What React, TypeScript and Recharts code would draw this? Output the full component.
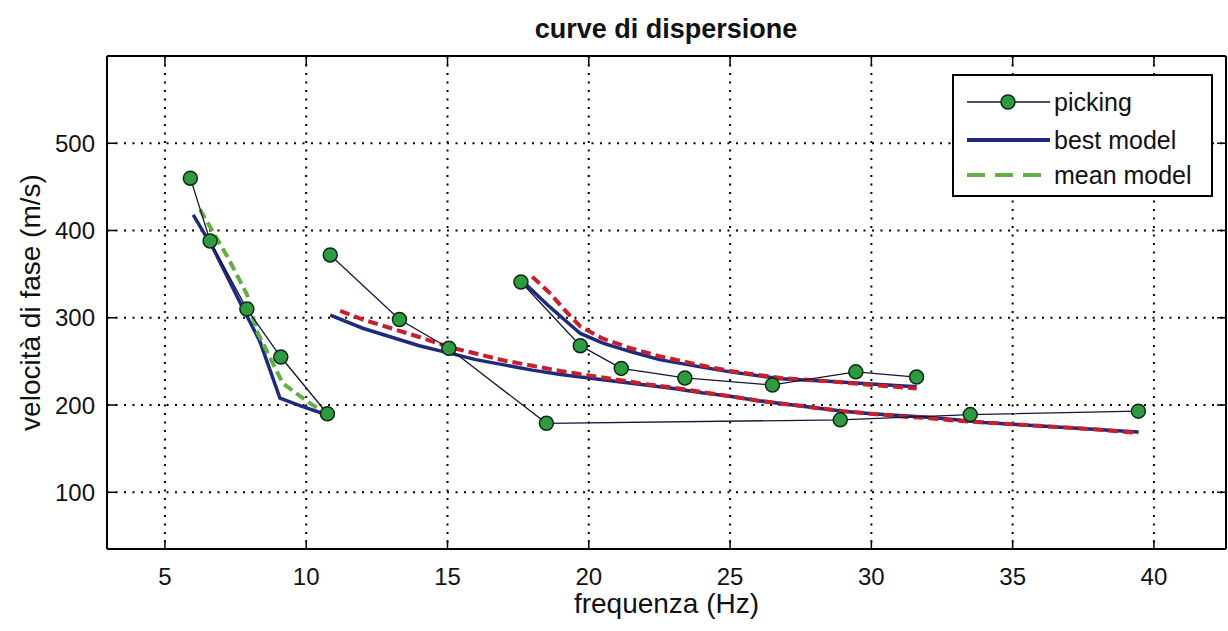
import React from 'react';
import { ComposedChart, Line, XAxis, YAxis, CartesianGrid, Legend } from 'recharts';

type P = { f: number; v: number };

const FONT = "'Liberation Sans', Arial, sans-serif";

const xTicks = [5, 10, 15, 20, 25, 30, 35, 40];
const yTicks = [100, 200, 300, 400, 500];
const xDomain: [number, number] = [2.95, 42.55];
const yDomain: [number, number] = [35, 600];

// picking (experimental points)
const pickingA: P[] = [
  { f: 5.9, v: 460 }, { f: 6.6, v: 388 }, { f: 7.9, v: 310 }, { f: 9.1, v: 255 }, { f: 10.75, v: 190 },
];
const pickingB: P[] = [
  { f: 10.85, v: 372 }, { f: 13.3, v: 298 }, { f: 15.05, v: 265 }, { f: 18.5, v: 179 },
  { f: 28.9, v: 183 }, { f: 33.5, v: 189 }, { f: 39.45, v: 193 },
];
const pickingC: P[] = [
  { f: 17.6, v: 341 }, { f: 19.7, v: 268 }, { f: 21.15, v: 242 }, { f: 23.4, v: 231 },
  { f: 26.5, v: 223 }, { f: 29.45, v: 238 }, { f: 31.6, v: 232 },
];

// best model
const bestA: P[] = [
  { f: 6.0, v: 418 }, { f: 6.7, v: 380 }, { f: 7.76, v: 311 }, { f: 8.36, v: 273 },
  { f: 9.07, v: 208 }, { f: 9.8, v: 199 }, { f: 10.8, v: 188 },
];
const bestB: P[] = [
  { f: 10.85, v: 303 }, { f: 12, v: 288 }, { f: 13, v: 278 }, { f: 14, v: 268 }, { f: 15, v: 260 },
  { f: 16, v: 252 }, { f: 17, v: 246 }, { f: 18, v: 240 }, { f: 19, v: 235 }, { f: 20, v: 231 },
  { f: 21, v: 227 }, { f: 22, v: 223 }, { f: 23, v: 219 }, { f: 24, v: 214 }, { f: 25, v: 210 },
  { f: 26, v: 205 }, { f: 27, v: 201 }, { f: 28, v: 197 }, { f: 29, v: 193 }, { f: 30, v: 190 },
  { f: 31, v: 188 }, { f: 32, v: 186 }, { f: 33, v: 183 }, { f: 34, v: 180 }, { f: 35, v: 178 },
  { f: 36, v: 176 }, { f: 37, v: 174 }, { f: 38, v: 172 }, { f: 39, v: 170 }, { f: 39.45, v: 169 },
];
const bestC: P[] = [
  { f: 17.65, v: 342 }, { f: 18.6, v: 313 }, { f: 19.2, v: 296 }, { f: 19.7, v: 282 },
  { f: 20.5, v: 271 }, { f: 21.5, v: 261 }, { f: 22.5, v: 252 }, { f: 23.9, v: 244 },
  { f: 25, v: 238 }, { f: 26.8, v: 230 }, { f: 28.6, v: 227 }, { f: 30, v: 224 }, { f: 31.6, v: 221 },
];

// mean model
const meanA: P[] = [
  { f: 6.24, v: 424 }, { f: 7.23, v: 369 }, { f: 7.9, v: 327 }, { f: 8.25, v: 285 },
  { f: 9.17, v: 225 }, { f: 10.0, v: 205 }, { f: 10.7, v: 190 },
];
const meanB: P[] = [
  { f: 11.2, v: 308 }, { f: 12, v: 298 }, { f: 13, v: 288 }, { f: 14, v: 278 }, { f: 15, v: 267 },
  { f: 16, v: 259 }, { f: 17, v: 251 }, { f: 18, v: 245 }, { f: 19, v: 239 }, { f: 20, v: 234 },
  { f: 21, v: 229 }, { f: 22, v: 224 }, { f: 23, v: 220 }, { f: 24, v: 215 }, { f: 25, v: 210 },
  { f: 26, v: 205 }, { f: 27, v: 201 }, { f: 28, v: 197 }, { f: 29, v: 193 }, { f: 30, v: 190 },
  { f: 31, v: 187 }, { f: 32, v: 185 }, { f: 33, v: 182 }, { f: 34, v: 180 }, { f: 35, v: 178 },
  { f: 36, v: 176 }, { f: 37, v: 174 }, { f: 38, v: 172 }, { f: 39, v: 169 }, { f: 39.45, v: 168 },
];
const meanC: P[] = [
  { f: 18.0, v: 347 }, { f: 18.6, v: 329 }, { f: 19.2, v: 307 }, { f: 19.7, v: 290 },
  { f: 20.5, v: 276 }, { f: 21.5, v: 265 }, { f: 22.5, v: 256 }, { f: 23.9, v: 246 },
  { f: 25, v: 239 }, { f: 26.8, v: 231 }, { f: 28.6, v: 227 }, { f: 30, v: 223 }, { f: 31.6, v: 219 },
];

const legendLabels = ['picking', 'best model', 'mean model'];

const C_PICK = '#15153a';
const C_DOT = '#2e9a42';
const C_BEST = '#1f2a7c';
const C_RED = '#c8202a';
const C_GREEN = '#62b044';

const BottomTick = ({ x, y, payload }: any) => (
  <g>
    <line x1={x} x2={x} y1={y - 19} y2={y - 28} stroke="#000" strokeWidth={1.5} />
    <text x={x} y={y} dy="0.71em" textAnchor="middle" fontSize={24} fontFamily={FONT} fill="#111">
      {payload.value}
    </text>
  </g>
);
const LeftTick = ({ x, y, payload }: any) => (
  <g>
    <line x1={x + 12} x2={x + 21} y1={y} y2={y} stroke="#000" strokeWidth={1.5} />
    <text x={x} y={y} dy="0.355em" textAnchor="end" fontSize={24} fontFamily={FONT} fill="#111">
      {payload.value}
    </text>
  </g>
);
// top axis: tick y = axis line y (tickSize 0, tickMargin 0)
const TopTick = ({ x, y }: any) => (
  <line x1={x} x2={x} y1={y} y2={y + 9} stroke="#000" strokeWidth={1.5} />
);
// right axis: tick x = axis line x
const RightTick = ({ x, y }: any) => (
  <line x1={x} x2={x - 9} y1={y} y2={y} stroke="#000" strokeWidth={1.5} />
);

const PickDot = (props: any) => {
  const { cx, cy } = props;
  if (cx == null || cy == null) return null;
  return <circle cx={cx} cy={cy} r={7} fill={C_DOT} stroke="#0c2a12" strokeWidth={1.5} />;
};

const renderLegend = () => (
  <svg width={262} height={124} style={{ display: 'block' }}>
    <rect x={1} y={1} width={259} height={121} fill="#fff" stroke="#000" strokeWidth={2} />
    <line x1={15} x2={98} y1={28} y2={28} stroke={C_PICK} strokeWidth={1.5} />
    <circle cx={56} cy={28} r={7} fill={C_DOT} stroke="#0c2a12" strokeWidth={1.5} />
    <line x1={15} x2={98} y1={66} y2={66} stroke={C_BEST} strokeWidth={4} />
    <line x1={15} x2={98} y1={101} y2={101} stroke={C_GREEN} strokeWidth={4} strokeDasharray="18 10" />
    {legendLabels.map((t, i) => (
      <text key={t} x={102} y={[28, 66, 101][i]} dy="0.355em" fontSize={25} fontFamily={FONT} fill="#111">
        {t}
      </text>
    ))}
  </svg>
);

export default function App() {
  return (
    <div style={{ position: 'absolute', left: 0, top: 0, width: 1228, height: 631, background: '#fff' }}>
      <div
        style={{
          position: 'absolute', left: 416, top: 14, width: 500, textAlign: 'center',
          fontFamily: FONT, fontWeight: 'bold', fontSize: 27, lineHeight: '30px', color: '#111',
        }}
      >
        curve di dispersione
      </div>
      <ComposedChart width={1228} height={631} margin={{ top: 55, right: 1, bottom: 16, left: 7 }}>
        <CartesianGrid stroke="#000" strokeWidth={2} strokeDasharray="2 6.5" />
        <XAxis
          xAxisId={0} dataKey="f" type="number" domain={xDomain} ticks={xTicks} allowDataOverflow
          height={66} tickSize={0} tickMargin={19} tickLine={false} tick={<BottomTick />}
          axisLine={{ stroke: '#000', strokeWidth: 2 }}
          label={{ value: 'frequenza (Hz)', position: 'insideBottom', offset: 2, style: { fontSize: 28, fontFamily: FONT, fill: '#111' } }}
        />
        <XAxis
          xAxisId="t" orientation="top" dataKey="f" type="number" domain={xDomain} ticks={xTicks} allowDataOverflow
          height={1} tickSize={0} tickMargin={0} tickLine={false} tick={<TopTick />}
          axisLine={{ stroke: '#000', strokeWidth: 2 }}
        />
        <YAxis
          yAxisId={0} type="number" domain={yDomain} ticks={yTicks} allowDataOverflow
          width={100} tickSize={0} tickMargin={12} tickLine={false} tick={<LeftTick />}
          axisLine={{ stroke: '#000', strokeWidth: 2 }}
          label={{ value: 'velocità di fase (m/s)', angle: -90, position: 'insideLeft', offset: 23, style: { textAnchor: 'middle', fontSize: 28, fontFamily: FONT, fill: '#111' } }}
        />
        <YAxis
          yAxisId="r" orientation="right" type="number" domain={yDomain} ticks={yTicks} allowDataOverflow
          width={1} tickSize={0} tickMargin={0} tickLine={false} tick={<RightTick />}
          axisLine={{ stroke: '#000', strokeWidth: 2 }}
        />
        <Legend
          layout="horizontal" verticalAlign="middle" align="center" content={renderLegend}
          wrapperStyle={{ left: 952, top: 74, width: 262, height: 124 }}
        />
        <Line data={bestA} dataKey="v" type="linear" stroke={C_BEST} strokeWidth={3.5} dot={false} isAnimationActive={false} legendType="none" />
        <Line data={bestB} dataKey="v" type="linear" stroke={C_BEST} strokeWidth={3.5} dot={false} isAnimationActive={false} legendType="none" />
        <Line data={bestC} dataKey="v" type="linear" stroke={C_BEST} strokeWidth={3.5} dot={false} isAnimationActive={false} legendType="none" />
        <Line data={meanA} dataKey="v" type="linear" stroke={C_GREEN} strokeWidth={4} strokeDasharray="10 5" dot={false} isAnimationActive={false} legendType="none" />
        <Line data={meanB} dataKey="v" type="linear" stroke={C_RED} strokeWidth={4} strokeDasharray="10 5" dot={false} isAnimationActive={false} legendType="none" />
        <Line data={meanC} dataKey="v" type="linear" stroke={C_RED} strokeWidth={4} strokeDasharray="10 5" dot={false} isAnimationActive={false} legendType="none" />
        <Line data={pickingA} dataKey="v" type="linear" stroke={C_PICK} strokeWidth={1.3} dot={<PickDot />} isAnimationActive={false} legendType="none" />
        <Line data={pickingB} dataKey="v" type="linear" stroke={C_PICK} strokeWidth={1.3} dot={<PickDot />} isAnimationActive={false} legendType="none" />
        <Line data={pickingC} dataKey="v" type="linear" stroke={C_PICK} strokeWidth={1.3} dot={<PickDot />} isAnimationActive={false} legendType="none" />
        {/* invisible series binding the frame axes (top / right) so they are drawn */}
        <Line xAxisId="t" yAxisId="r" data={bestB} dataKey="v" type="linear" stroke="none" strokeWidth={0} dot={false} activeDot={false} isAnimationActive={false} legendType="none" />
      </ComposedChart>
    </div>
  );
}
